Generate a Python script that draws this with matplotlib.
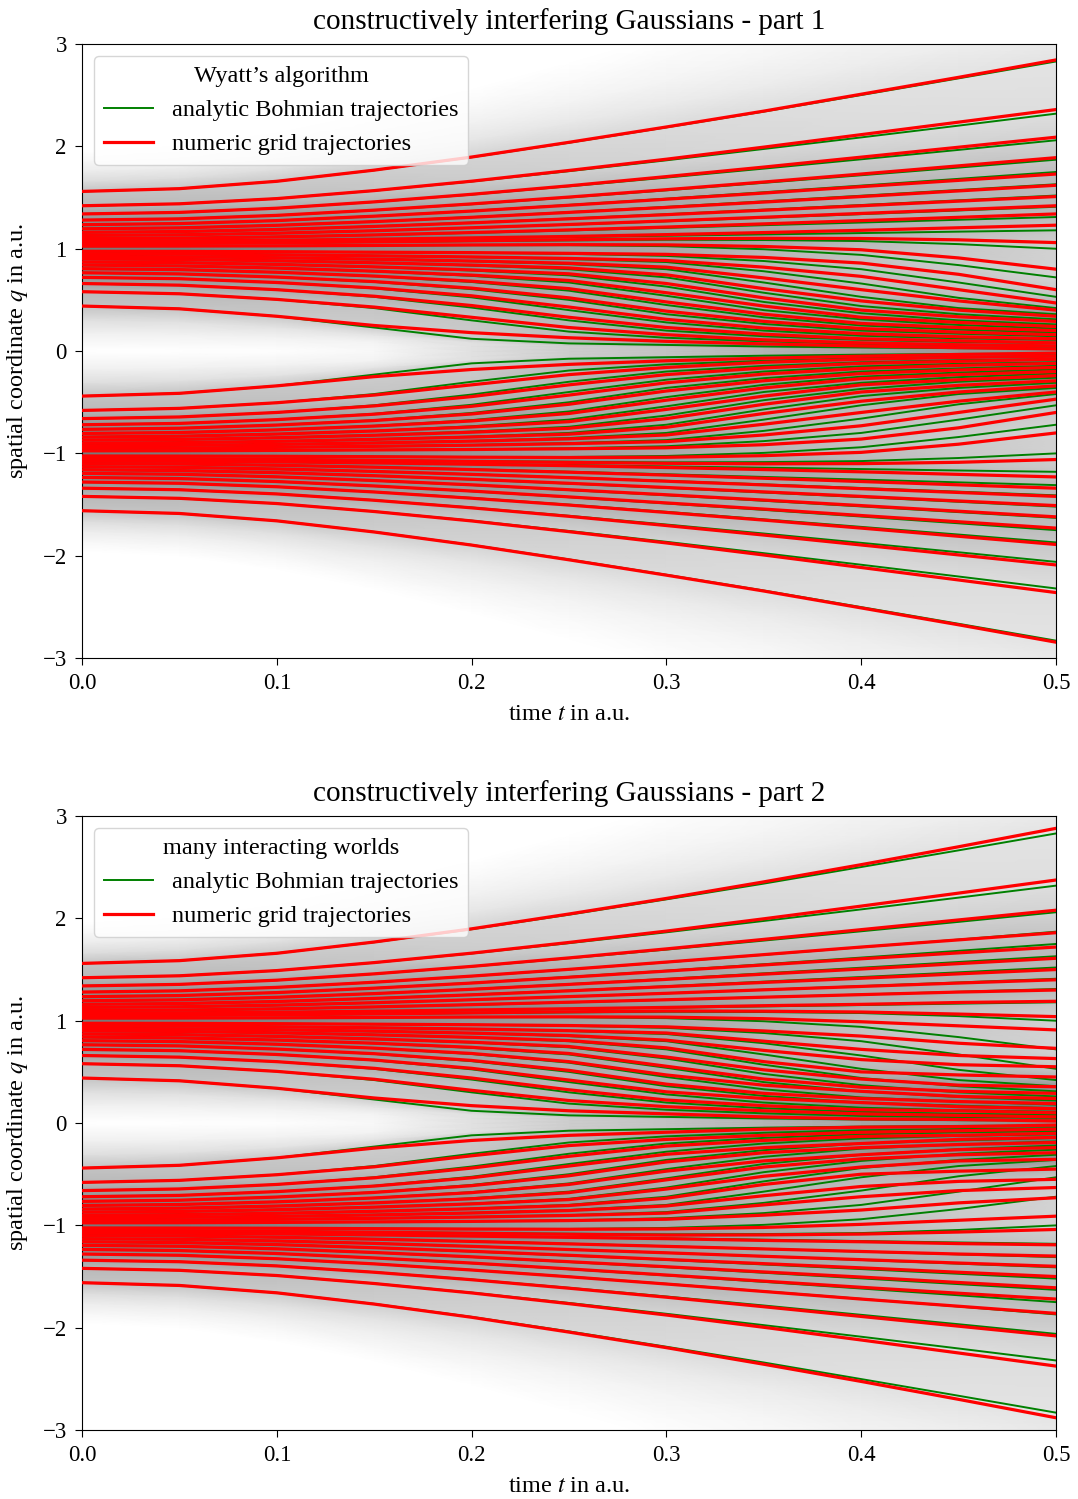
import numpy as np
import matplotlib.pyplot as plt

plt.rcParams['font.family'] = ['Liberation Serif', 'DejaVu Serif']
plt.rcParams['mathtext.fontset'] = 'stix'

times = [0.0, 0.05, 0.1, 0.15, 0.2, 0.25, 0.3, 0.35, 0.4, 0.45, 0.5]

# upper Gaussian (centred at q=+1), top trajectory first; lower one is its mirror image
analytic_upper = [
    [1.56, 1.587, 1.659, 1.767, 1.894, 2.036, 2.186, 2.34, 2.502, 2.665, 2.83],
    [1.42, 1.439, 1.490, 1.567, 1.657, 1.758, 1.864, 1.975, 2.088, 2.203, 2.32],
    [1.34, 1.355, 1.396, 1.457, 1.529, 1.610, 1.695, 1.783, 1.874, 1.966, 2.06],
    [1.28, 1.292, 1.326, 1.376, 1.435, 1.501, 1.571, 1.644, 1.718, 1.793, 1.87],
    [1.235, 1.246, 1.275, 1.319, 1.370, 1.428, 1.489, 1.552, 1.617, 1.683, 1.75],
    [1.195, 1.204, 1.229, 1.266, 1.309, 1.358, 1.409, 1.463, 1.518, 1.574, 1.63],
    [1.16, 1.168, 1.188, 1.219, 1.255, 1.295, 1.337, 1.382, 1.427, 1.473, 1.52],
    [1.13, 1.136, 1.152, 1.176, 1.204, 1.235, 1.268, 1.303, 1.338, 1.374, 1.41],
    [1.10, 1.104, 1.116, 1.134, 1.155, 1.179, 1.204, 1.23, 1.256, 1.283, 1.31],
    [1.075, 1.077, 1.083, 1.092, 1.103, 1.114, 1.127, 1.14, 1.153, 1.167, 1.18],
    [1.05, 1.052, 1.058, 1.066, 1.075, 1.082, 1.088, 1.085, 1.075, 1.045, 1.00],
    [1.025, 1.026, 1.028, 1.032, 1.035, 1.035, 1.025, 0.995, 0.94, 0.84, 0.72],
    [0.975, 0.974, 0.971, 0.966, 0.960, 0.950, 0.930, 0.88, 0.80, 0.67, 0.53],
    [0.95, 0.948, 0.941, 0.931, 0.918, 0.900, 0.870, 0.78, 0.66, 0.52, 0.42],
    [0.925, 0.921, 0.912, 0.897, 0.878, 0.850, 0.800, 0.67, 0.53, 0.42, 0.36],
    [0.90, 0.895, 0.882, 0.862, 0.836, 0.800, 0.720, 0.57, 0.44, 0.36, 0.31],
    [0.87, 0.864, 0.847, 0.821, 0.787, 0.740, 0.630, 0.48, 0.37, 0.30, 0.26],
    [0.84, 0.832, 0.811, 0.779, 0.735, 0.670, 0.540, 0.40, 0.31, 0.255, 0.22],
    [0.805, 0.796, 0.770, 0.731, 0.675, 0.590, 0.450, 0.33, 0.25, 0.21, 0.18],
    [0.765, 0.754, 0.723, 0.676, 0.605, 0.500, 0.360, 0.265, 0.20, 0.17, 0.145],
    [0.72, 0.707, 0.670, 0.613, 0.525, 0.400, 0.280, 0.20, 0.15, 0.125, 0.11],
    [0.66, 0.644, 0.600, 0.530, 0.425, 0.300, 0.200, 0.145, 0.11, 0.09, 0.08],
    [0.58, 0.560, 0.505, 0.420, 0.300, 0.190, 0.130, 0.095, 0.07, 0.058, 0.05],
    [0.44, 0.413, 0.340, 0.230, 0.120, 0.075, 0.060, 0.045, 0.035, 0.028, 0.025],
]

wyatt_upper = [
    [1.56, 1.587, 1.659, 1.768, 1.896, 2.04, 2.19, 2.345, 2.51, 2.675, 2.845],
    [1.42, 1.439, 1.490, 1.568, 1.66, 1.765, 1.875, 1.993, 2.115, 2.237, 2.36],
    [1.34, 1.355, 1.396, 1.458, 1.532, 1.615, 1.705, 1.798, 1.895, 1.992, 2.09],
    [1.28, 1.292, 1.326, 1.377, 1.438, 1.505, 1.577, 1.652, 1.73, 1.81, 1.89],
    [1.235, 1.246, 1.275, 1.318, 1.368, 1.425, 1.484, 1.544, 1.607, 1.668, 1.73],
    [1.195, 1.204, 1.229, 1.265, 1.307, 1.355, 1.404, 1.456, 1.51, 1.565, 1.62],
    [1.16, 1.168, 1.188, 1.218, 1.253, 1.292, 1.333, 1.376, 1.42, 1.465, 1.51],
    [1.13, 1.136, 1.152, 1.176, 1.205, 1.237, 1.272, 1.308, 1.345, 1.382, 1.42],
    [1.10, 1.104, 1.116, 1.135, 1.158, 1.184, 1.212, 1.243, 1.275, 1.307, 1.34],
    [1.075, 1.077, 1.083, 1.093, 1.106, 1.120, 1.138, 1.158, 1.18, 1.205, 1.23],
    [1.05, 1.052, 1.058, 1.067, 1.078, 1.088, 1.097, 1.102, 1.10, 1.087, 1.06],
    [1.025, 1.026, 1.028, 1.032, 1.037, 1.040, 1.038, 1.022, 0.99, 0.91, 0.80],
    [0.975, 0.974, 0.971, 0.966, 0.962, 0.955, 0.945, 0.915, 0.86, 0.75, 0.60],
    [0.95, 0.948, 0.941, 0.931, 0.920, 0.905, 0.885, 0.82, 0.73, 0.60, 0.47],
    [0.925, 0.921, 0.912, 0.898, 0.880, 0.858, 0.820, 0.715, 0.60, 0.49, 0.40],
    [0.90, 0.895, 0.882, 0.863, 0.840, 0.812, 0.745, 0.61, 0.49, 0.40, 0.34],
    [0.87, 0.864, 0.847, 0.823, 0.793, 0.755, 0.660, 0.52, 0.40, 0.335, 0.29],
    [0.84, 0.832, 0.811, 0.781, 0.742, 0.690, 0.570, 0.44, 0.33, 0.28, 0.24],
    [0.805, 0.796, 0.770, 0.733, 0.683, 0.610, 0.480, 0.36, 0.27, 0.23, 0.20],
    [0.765, 0.754, 0.723, 0.679, 0.615, 0.520, 0.390, 0.29, 0.22, 0.185, 0.16],
    [0.72, 0.707, 0.670, 0.617, 0.540, 0.430, 0.310, 0.225, 0.17, 0.14, 0.12],
    [0.66, 0.644, 0.600, 0.536, 0.445, 0.330, 0.230, 0.165, 0.12, 0.10, 0.08],
    [0.58, 0.560, 0.505, 0.430, 0.330, 0.230, 0.160, 0.11, 0.08, 0.062, 0.05],
    [0.44, 0.413, 0.340, 0.250, 0.180, 0.130, 0.095, 0.07, 0.05, 0.033, 0.02],
]

miw_upper = [
    [1.56, 1.587, 1.659, 1.769, 1.898, 2.043, 2.195, 2.357, 2.525, 2.70, 2.88],
    [1.42, 1.439, 1.490, 1.568, 1.660, 1.765, 1.876, 1.996, 2.12, 2.247, 2.375],
    [1.34, 1.355, 1.396, 1.458, 1.531, 1.614, 1.702, 1.795, 1.89, 1.985, 2.08],
    [1.28, 1.292, 1.326, 1.376, 1.436, 1.502, 1.573, 1.646, 1.72, 1.79, 1.86],
    [1.235, 1.246, 1.275, 1.318, 1.368, 1.425, 1.485, 1.545, 1.605, 1.663, 1.72],
    [1.195, 1.204, 1.229, 1.265, 1.307, 1.355, 1.404, 1.455, 1.505, 1.558, 1.61],
    [1.16, 1.168, 1.188, 1.218, 1.253, 1.292, 1.333, 1.374, 1.415, 1.458, 1.50],
    [1.13, 1.136, 1.152, 1.176, 1.205, 1.236, 1.268, 1.302, 1.335, 1.368, 1.40],
    [1.10, 1.104, 1.116, 1.135, 1.157, 1.181, 1.205, 1.23, 1.255, 1.28, 1.30],
    [1.075, 1.077, 1.083, 1.093, 1.105, 1.117, 1.130, 1.147, 1.16, 1.178, 1.19],
    [1.05, 1.052, 1.058, 1.067, 1.077, 1.087, 1.095, 1.093, 1.085, 1.065, 1.04],
    [1.025, 1.026, 1.028, 1.032, 1.036, 1.038, 1.035, 1.02, 0.99, 0.95, 0.91],
    [0.975, 0.974, 0.971, 0.966, 0.961, 0.953, 0.94, 0.90, 0.85, 0.78, 0.73],
    [0.95, 0.948, 0.941, 0.931, 0.919, 0.903, 0.88, 0.80, 0.72, 0.66, 0.63],
    [0.925, 0.921, 0.912, 0.898, 0.879, 0.855, 0.81, 0.71, 0.62, 0.57, 0.55],
    [0.90, 0.895, 0.882, 0.862, 0.838, 0.806, 0.735, 0.60, 0.50, 0.47, 0.45],
    [0.87, 0.864, 0.847, 0.822, 0.790, 0.748, 0.645, 0.52, 0.43, 0.37, 0.355],
    [0.84, 0.832, 0.811, 0.780, 0.740, 0.680, 0.555, 0.43, 0.35, 0.31, 0.29],
    [0.805, 0.796, 0.770, 0.732, 0.680, 0.600, 0.47, 0.37, 0.31, 0.26, 0.24],
    [0.765, 0.754, 0.723, 0.678, 0.612, 0.515, 0.38, 0.29, 0.24, 0.21, 0.19],
    [0.72, 0.707, 0.670, 0.616, 0.535, 0.420, 0.305, 0.24, 0.20, 0.16, 0.14],
    [0.66, 0.644, 0.600, 0.535, 0.440, 0.325, 0.225, 0.17, 0.13, 0.12, 0.10],
    [0.58, 0.560, 0.505, 0.428, 0.320, 0.220, 0.16, 0.12, 0.09, 0.075, 0.06],
    [0.44, 0.413, 0.340, 0.245, 0.170, 0.120, 0.09, 0.06, 0.04, 0.035, 0.02],
]

titles = ['constructively interfering Gaussians - part 1',
          'constructively interfering Gaussians - part 2']
methods = ['Wyatt\u2019s algorithm', 'many interacting worlds']


def both_packets(upper):
    up = np.array(upper)
    # lower Gaussian is the mirror image of the upper one about q = 0
    return np.vstack([-up, up[::-1]])


def shade(ax, q):
    # grey density: same probability between neighbouring trajectories
    n = len(q)
    h = n // 2
    gaps = np.diff(q, axis=0)
    g_lo = np.vstack([gaps[:1], gaps])
    g_hi = np.vstack([gaps, gaps[-1:]])
    g_lo[h] = g_hi[h]
    g_hi[h - 1] = g_lo[h - 1]
    dens = 1.0 / (n * 0.5 * (g_lo + g_hi))

    # gap between the two packets: fades quickly from the innermost lines
    mid_gap = gaps[h - 1]
    mid = np.exp(-(mid_gap / 0.3) ** 2) / (n * mid_gap)
    mid_q = 0.5 * (q[h - 1] + q[h])
    frac = np.array([0.3, 0.6])
    drop = np.array([0.35, 0.1])
    lo_rows = q[h - 1] + frac[:, None] * (mid_q - q[h - 1])
    hi_rows = q[h] - frac[::-1, None] * (q[h] - mid_q)
    lo_d = np.maximum(mid, drop[:, None] * dens[h - 1])
    hi_d = np.maximum(mid, drop[::-1, None] * dens[h])

    steps = np.array([0.7, 1.4, 2.1, 2.8])
    fade = np.array([0.4, 0.15, 0.04, 0.0])
    above = q[-1] + steps[:, None] * gaps[-1]
    below = q[0] - steps[::-1, None] * gaps[0]
    Q = np.vstack([below, q[:h], lo_rows, mid_q, hi_rows, q[h:], above])
    D = np.vstack([fade[::-1, None] * dens[0], dens[:h], lo_d, mid, hi_d, dens[h:],
                   fade[:, None] * dens[-1]])
    C = 0.55 * np.clip(D / 0.6, 0, 1) ** 0.6
    Tm = np.broadcast_to(np.array(times), Q.shape)
    ax.pcolormesh(Tm, Q, C, shading='gouraud', cmap='gray_r', vmin=0, vmax=1, zorder=0)


analytic = both_packets(analytic_upper)
numeric = [both_packets(wyatt_upper), both_packets(miw_upper)]

fig = plt.figure(figsize=(10.78, 14.99), dpi=100)
axes = [fig.add_axes([0.0761, 0.561, 0.9035, 0.4096]),
        fig.add_axes([0.0761, 0.046, 0.9035, 0.4096])]

for k, ax in enumerate(axes):
    shade(ax, analytic)
    for i, row in enumerate(analytic):
        ax.plot(times, row, color='green', lw=1.4, zorder=2,
                label='analytic Bohmian trajectories' if i == 0 else None)
    for i, row in enumerate(numeric[k]):
        ax.plot(times, row, color='red', lw=2.3, zorder=3,
                label='numeric grid trajectories' if i == 0 else None)
    ax.set_xlim(0, 0.5)
    ax.set_ylim(-3, 3)
    ax.set_xticks([0.0, 0.1, 0.2, 0.3, 0.4, 0.5])
    ax.set_yticks([-3, -2, -1, 0, 1, 2, 3])
    ax.tick_params(labelsize=16.5, length=5, pad=6)
    ax.set_title(titles[k], fontsize=21, pad=11)
    ax.set_xlabel('time $t$ in a.u.', fontsize=17.5, labelpad=7)
    ax.set_ylabel('spatial coordinate $q$ in a.u.', fontsize=17.5, labelpad=9)
    ax.legend(loc='upper left', title=methods[k], fontsize=17.5, title_fontsize=17.5)

fig.savefig('out.png', dpi=100)
